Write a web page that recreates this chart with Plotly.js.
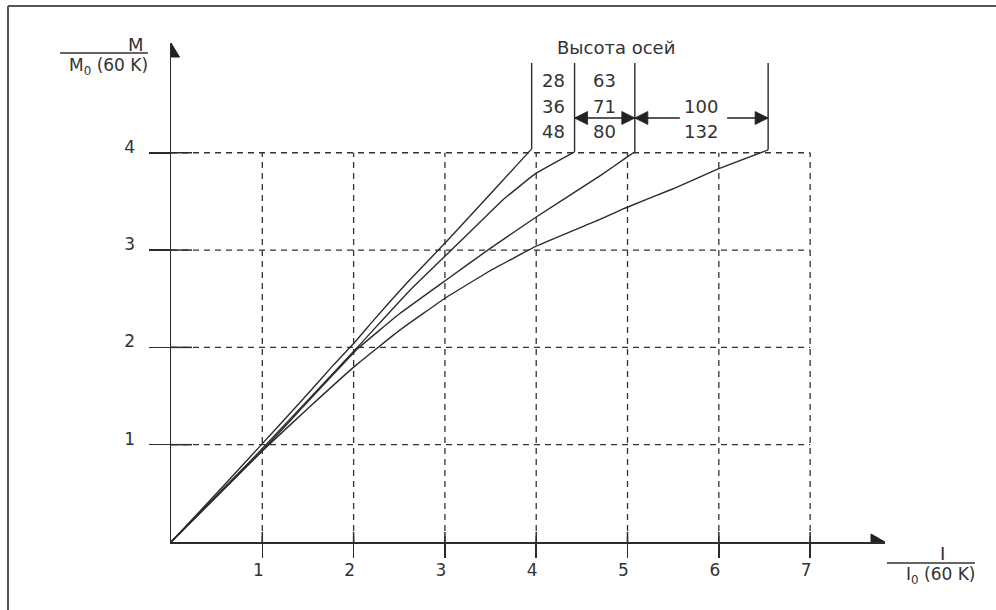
<!DOCTYPE html>
<html>
<head>
<meta charset="utf-8">
<script src="https://cdn.plot.ly/plotly-3.0.1.min.js"></script>
<style>html,body{margin:0;padding:0;background:#fff;}#chart{width:996px;height:610px;}</style>
</head>
<body>
<div id="chart"></div>
<script>
// ---- data ----
const xTicks = [1, 2, 3, 4, 5, 6, 7];
const yTicks = [1, 2, 3, 4];
const xTickText = ['1', '2', '3', '4', '5', '6', '7'];
const yTickText = ['1', '2', '3', '4'];

// curve for axis heights 28 / 36 / 48
const curveA_x = [0, 0.5, 0.97, 1.4, 1.78, 2.02, 2.22, 2.58, 3.02, 3.53, 3.95];
const curveA_y = [0, 0.5, 0.98, 1.42, 1.82, 2.06, 2.28, 2.66, 3.09, 3.61, 4.04];
// curve for axis heights 63 / 71 / 80
const curveB_x = [0, 0.97, 2.05, 2.62, 3.18, 3.64, 4.0, 4.42];
const curveB_y = [0, 0.93, 2.01, 2.59, 3.10, 3.52, 3.79, 4.01];
// curve for axis height 100
const curveC_x = [0, 0.97, 2.05, 2.51, 3.01, 3.5, 4.0, 4.71, 4.97, 5.08];
const curveC_y = [0, 0.91, 1.99, 2.35, 2.69, 3.02, 3.34, 3.77, 3.94, 4.01];
// curve for axis height 132
const curveD_x = [0, 0.97, 1.52, 2.03, 2.51, 3.01, 3.5, 4.0, 4.71, 4.97, 5.5, 5.98, 6.54];
const curveD_y = [0, 0.91, 1.39, 1.82, 2.18, 2.51, 2.79, 3.04, 3.32, 3.43, 3.63, 3.83, 4.03];

const groupTitle = 'Высота осей';
const groupLabels = [['28', '36', '48'], ['63', '71', '80'], ['', '100', '132']];
const xTitleTop = 'I', xTitleBottom = 'I<sub>0</sub> (60 K)';
const yTitleTop = 'M', yTitleBottom = 'M<sub>0</sub> (60 K)';

// ---- layout constants ----
const W = 996, H = 610;
const L = 171, R = 111, T = 43, B = 68;
const pw = W - L - R, ph = H - T - B;
const xMax = 7.82, yMax = 5.128;
const INK = '#2b2b2b', TXT = '#333333';
const FONT = 'DejaVu Sans, sans-serif';
const px2paperX = p => (p - L) / pw;
const px2paperY = p => (H - B - p) / ph;
const yPx = p => (H - B - p) * yMax / ph;   // pixel row -> y data

const curves = [[curveA_x, curveA_y], [curveB_x, curveB_y], [curveC_x, curveC_y], [curveD_x, curveD_y]];
const traces = curves.map(([xs, ys]) => ({
  x: xs, y: ys, type: 'scatter', mode: 'lines',
  line: {color: INK, width: 1.4, shape: 'spline', smoothing: 0.3},
  hoverinfo: 'skip', showlegend: false
}));

const shapes = [];
const dash = {color: '#333', width: 1.3, dash: '6px,5px'};
const solid = {color: INK, width: 1.5};
const lastX = xTicks[xTicks.length - 1], lastY = yTicks[yTicks.length - 1];
yTicks.forEach(v => {
  shapes.push({type: 'line', xref: 'x', yref: 'y', x0: 0, x1: lastX, y0: v, y1: v, line: dash, layer: 'below'});
  shapes.push({type: 'line', xref: 'x', yref: 'y', xsizemode: 'pixel', xanchor: 0, x0: 0, x1: 21, y0: v, y1: v, line: solid});
});
xTicks.forEach(v => {
  shapes.push({type: 'line', xref: 'x', yref: 'y', x0: v, x1: v, y0: 0, y1: lastY, line: dash, layer: 'below'});
  shapes.push({type: 'line', xref: 'x', yref: 'y', ysizemode: 'pixel', yanchor: 0, x0: v, x1: v, y0: 0, y1: 10, line: solid});
});
// axis arrow heads
shapes.push({type: 'path', xref: 'x', yref: 'y', xsizemode: 'pixel', ysizemode: 'pixel', xanchor: 0, yanchor: yMax,
  path: 'M -8.5 -14 L 0 0 L 8.5 -14 Z', fillcolor: '#222', line: {color: '#222', width: 1}});
shapes.push({type: 'path', xref: 'x', yref: 'y', xsizemode: 'pixel', ysizemode: 'pixel', xanchor: xMax, yanchor: 0,
  path: 'M -14 8 L 0 0 L -14 -8 Z', fillcolor: '#222', line: {color: '#222', width: 1}});
// vertical marker lines at the end of each curve
const topY = yPx(63);
const ends = curves.map(([xs, ys]) => [xs[xs.length - 1], ys[ys.length - 1]]);
ends.forEach(([ex, ey]) => {
  shapes.push({type: 'line', xref: 'x', yref: 'y', x0: ex, x1: ex, y0: ey, y1: topY, line: {color: INK, width: 1.4}});
});
// dimension arrows between the marker lines
const arrowY = yPx(118);
const headLeft = xa => ({type: 'path', xref: 'x', yref: 'y', xsizemode: 'pixel', ysizemode: 'pixel', xanchor: xa, yanchor: arrowY,
  path: 'M 0 0 L 13 6.5 L 13 -6.5 Z', fillcolor: '#222', line: {color: '#222', width: 0.8}});
const headRight = xa => ({type: 'path', xref: 'x', yref: 'y', xsizemode: 'pixel', ysizemode: 'pixel', xanchor: xa, yanchor: arrowY,
  path: 'M 0 0 L -13 6.5 L -13 -6.5 Z', fillcolor: '#222', line: {color: '#222', width: 0.8}});
const arrLine = {color: '#222', width: 1.3};
shapes.push({type: 'line', xref: 'x', yref: 'y', x0: ends[1][0], x1: ends[2][0], y0: arrowY, y1: arrowY, line: arrLine});
shapes.push(headLeft(ends[1][0]), headRight(ends[2][0]));
shapes.push({type: 'line', xref: 'x', yref: 'y', xsizemode: 'pixel', xanchor: ends[2][0], x0: 0, x1: 45, y0: arrowY, y1: arrowY, line: arrLine});
shapes.push({type: 'line', xref: 'x', yref: 'y', xsizemode: 'pixel', xanchor: ends[3][0], x0: -41, x1: 0, y0: arrowY, y1: arrowY, line: arrLine});
shapes.push(headLeft(ends[2][0]), headRight(ends[3][0]));
// fraction bars of axis titles
shapes.push({type: 'line', xref: 'paper', yref: 'paper', x0: px2paperX(60), x1: px2paperX(148), y0: px2paperY(53), y1: px2paperY(53), line: {color: TXT, width: 1.3}});
shapes.push({type: 'line', xref: 'paper', yref: 'paper', x0: px2paperX(887), x1: px2paperX(975), y0: px2paperY(563), y1: px2paperY(563), line: {color: TXT, width: 1.3}});
// frame (top and left edges of the scanned picture)
shapes.push({type: 'line', xref: 'paper', yref: 'paper', x0: px2paperX(8), x1: px2paperX(W + 5), y0: px2paperY(6), y1: px2paperY(6), line: {color: '#555', width: 2}});
shapes.push({type: 'line', xref: 'paper', yref: 'paper', x0: px2paperX(8), x1: px2paperX(8), y0: px2paperY(6), y1: px2paperY(H + 5), line: {color: '#555', width: 2}});

const annotations = [];
const tf = size => ({family: FONT, size: size, color: TXT});
const ann = (xref, yref, x, y, text, size) => ({xref, yref, x, y, text, showarrow: false, font: tf(size),
  xanchor: 'center', yanchor: 'middle', bgcolor: 'rgba(0,0,0,0)'});
annotations.push(ann('x', 'y', (ends[1][0] + ends[2][0]) / 2 + 0.12, yPx(47), groupTitle, 18));
const rowY = [yPx(80), yPx(106), yPx(131)];
groupLabels.forEach((g, gi) => {
  const cx = (ends[gi][0] + ends[gi + 1][0]) / 2;
  g.forEach((t, ri) => {
    if (t) annotations.push(ann('x', 'y', cx, rowY[ri], t, 18));
  });
});
// axis titles
annotations.push(ann('paper', 'paper', px2paperX(136), px2paperY(44), yTitleTop, 18));
annotations.push(ann('paper', 'paper', px2paperX(108), px2paperY(66), yTitleBottom, 17));
annotations.push(ann('paper', 'paper', px2paperX(942), px2paperY(553), xTitleTop, 18));
annotations.push(ann('paper', 'paper', px2paperX(940), px2paperY(575), xTitleBottom, 17));

const layout = {
  width: W, height: H,
  margin: {l: L, r: R, t: T, b: B, pad: 0},
  paper_bgcolor: '#ffffff', plot_bgcolor: '#ffffff',
  showlegend: false,
  xaxis: {range: [0, xMax], showgrid: false, zeroline: false, showline: true, linecolor: INK, linewidth: 1.5,
    tickvals: xTicks, ticktext: xTickText, ticks: 'outside', ticklen: 14, tickwidth: 1.5, tickcolor: INK,
    tickfont: tf(17), ticklabelshift: -4, ticklabelstandoff: -2, fixedrange: true},
  yaxis: {range: [0, yMax], showgrid: false, zeroline: false, showline: true, linecolor: INK, linewidth: 1.5,
    tickvals: yTicks, ticktext: yTickText, ticks: 'outside', ticklen: 21, tickwidth: 1.5, tickcolor: INK,
    tickfont: tf(17), ticklabelshift: -6, ticklabelstandoff: 10, fixedrange: true},
  shapes: shapes,
  annotations: annotations
};
Plotly.newPlot('chart', traces, layout, {displayModeBar: false, staticPlot: true});
</script>
</body>
</html>
